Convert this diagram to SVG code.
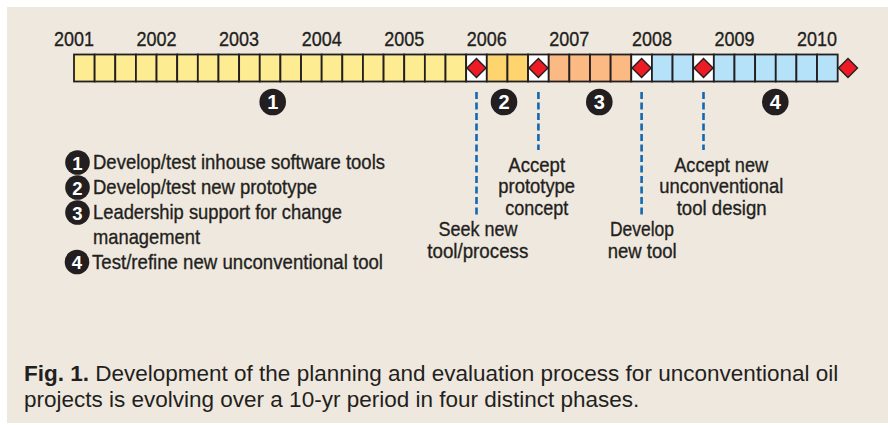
<svg xmlns="http://www.w3.org/2000/svg" width="888" height="425" viewBox="0 0 888 425">
<style>
.bg{fill:#efe8de}
.c{stroke:#231f20;stroke-width:1.8}
.y{fill:#fdec91}
.g{fill:#fdd46e}
.s{fill:#fbba84}
.b{fill:#b5e2f8}
.w{fill:#ffffff}
.dm{fill:#ed1c24;stroke:#231f20;stroke-width:1.4}
.t{font-family:"Liberation Sans",Arial,sans-serif;fill:#231f20;font-size:21px;stroke:#231f20;stroke-width:0.35}
.m{text-anchor:middle}
.num{font-family:"Liberation Sans",Arial,sans-serif;fill:#ffffff;font-weight:bold;text-anchor:middle}
.dash{stroke:#1268b3;stroke-width:2.6;stroke-dasharray:7 3.5;fill:none}
.cap{font-family:"Liberation Sans",Arial,sans-serif;fill:#231f20;font-size:22.5px}
</style>
<rect class="bg" x="7" y="7" width="881" height="416"/>

<g id="years" class="t m">
<text x="74" y="46" textLength="40" lengthAdjust="spacingAndGlyphs">2001</text>
<text x="156.56" y="46" textLength="40" lengthAdjust="spacingAndGlyphs">2002</text>
<text x="239.12" y="46" textLength="40" lengthAdjust="spacingAndGlyphs">2003</text>
<text x="321.68" y="46" textLength="40" lengthAdjust="spacingAndGlyphs">2004</text>
<text x="404.24" y="46" textLength="40" lengthAdjust="spacingAndGlyphs">2005</text>
<text x="486.8" y="46" textLength="40" lengthAdjust="spacingAndGlyphs">2006</text>
<text x="569.36" y="46" textLength="40" lengthAdjust="spacingAndGlyphs">2007</text>
<text x="651.92" y="46" textLength="40" lengthAdjust="spacingAndGlyphs">2008</text>
<text x="734.48" y="46" textLength="40" lengthAdjust="spacingAndGlyphs">2009</text>
<text x="817.04" y="46" textLength="40" lengthAdjust="spacingAndGlyphs">2010</text>
</g>

<g id="timeline-bar" class="c">
<rect class="y" x="74" y="54.5" width="20.64" height="27"/>
<rect class="y" x="94.64" y="54.5" width="20.64" height="27"/>
<rect class="y" x="115.28" y="54.5" width="20.64" height="27"/>
<rect class="y" x="135.92" y="54.5" width="20.64" height="27"/>
<rect class="y" x="156.56" y="54.5" width="20.64" height="27"/>
<rect class="y" x="177.2" y="54.5" width="20.64" height="27"/>
<rect class="y" x="197.84" y="54.5" width="20.64" height="27"/>
<rect class="y" x="218.48" y="54.5" width="20.64" height="27"/>
<rect class="y" x="239.12" y="54.5" width="20.64" height="27"/>
<rect class="y" x="259.76" y="54.5" width="20.64" height="27"/>
<rect class="y" x="280.4" y="54.5" width="20.64" height="27"/>
<rect class="y" x="301.04" y="54.5" width="20.64" height="27"/>
<rect class="y" x="321.68" y="54.5" width="20.64" height="27"/>
<rect class="y" x="342.32" y="54.5" width="20.64" height="27"/>
<rect class="y" x="362.96" y="54.5" width="20.64" height="27"/>
<rect class="y" x="383.6" y="54.5" width="20.64" height="27"/>
<rect class="y" x="404.24" y="54.5" width="20.64" height="27"/>
<rect class="y" x="424.88" y="54.5" width="20.64" height="27"/>
<rect class="y" x="445.52" y="54.5" width="20.64" height="27"/>
<rect class="w" x="466.16" y="54.5" width="20.64" height="27"/>
<rect class="g" x="486.8" y="54.5" width="20.64" height="27"/>
<rect class="g" x="507.44" y="54.5" width="20.64" height="27"/>
<rect class="w" x="528.08" y="54.5" width="20.64" height="27"/>
<rect class="s" x="548.72" y="54.5" width="20.64" height="27"/>
<rect class="s" x="569.36" y="54.5" width="20.64" height="27"/>
<rect class="s" x="590" y="54.5" width="20.64" height="27"/>
<rect class="s" x="610.64" y="54.5" width="20.64" height="27"/>
<rect class="w" x="631.28" y="54.5" width="20.64" height="27"/>
<rect class="b" x="651.92" y="54.5" width="20.64" height="27"/>
<rect class="b" x="672.56" y="54.5" width="20.64" height="27"/>
<rect class="w" x="693.2" y="54.5" width="20.64" height="27"/>
<rect class="b" x="713.84" y="54.5" width="20.64" height="27"/>
<rect class="b" x="734.48" y="54.5" width="20.64" height="27"/>
<rect class="b" x="755.12" y="54.5" width="20.64" height="27"/>
<rect class="b" x="775.76" y="54.5" width="20.64" height="27"/>
<rect class="b" x="796.4" y="54.5" width="20.64" height="27"/>
<rect class="b" x="817.04" y="54.5" width="20.64" height="27"/>
</g>

<g id="milestones">
<path class="dm" d="M476.48 58.5 L486 68 L476.48 77.5 L466.96 68 Z"/>
<path class="dm" d="M538.4 58.5 L547.92 68 L538.4 77.5 L528.88 68 Z"/>
<path class="dm" d="M641.6 58.5 L651.12 68 L641.6 77.5 L632.08 68 Z"/>
<path class="dm" d="M703.52 58.5 L713.04 68 L703.52 77.5 L694 68 Z"/>
<path class="dm" d="M848 58.5 L857.5 68 L848 77.5 L838.5 68 Z"/>
</g>

<g id="connectors">
<line class="dash" x1="476.5" y1="92" x2="476.5" y2="216"/>
<line class="dash" x1="538.4" y1="92" x2="538.4" y2="150"/>
<line class="dash" x1="641.6" y1="92" x2="641.6" y2="216"/>
<line class="dash" x1="703.5" y1="92" x2="703.5" y2="150"/>
</g>

<g id="phase-1"><circle cx="272.7" cy="102" r="13.3" fill="#231f20"/><text class="num" x="272.7" y="109" font-size="20">1</text></g>
<g id="phase-2"><circle cx="504" cy="102" r="13.3" fill="#231f20"/><text class="num" x="504" y="109" font-size="20">2</text></g>
<g id="phase-3"><circle cx="599.3" cy="102" r="13.3" fill="#231f20"/><text class="num" x="599.3" y="109" font-size="20">3</text></g>
<g id="phase-4"><circle cx="775.3" cy="102" r="13.3" fill="#231f20"/><text class="num" x="775.3" y="109" font-size="20">4</text></g>

<g id="label-seek" class="t m">
<text x="478" y="236" textLength="79" lengthAdjust="spacingAndGlyphs">Seek new</text>
<text x="477.8" y="258" textLength="101" lengthAdjust="spacingAndGlyphs">tool/process</text>
</g>
<g id="label-accept-prototype" class="t m">
<text x="536.7" y="171.5" textLength="56.7" lengthAdjust="spacingAndGlyphs">Accept</text>
<text x="536.7" y="193" textLength="76.7" lengthAdjust="spacingAndGlyphs">prototype</text>
<text x="536.7" y="214.5" textLength="63" lengthAdjust="spacingAndGlyphs">concept</text>
</g>
<g id="label-develop" class="t m">
<text x="642" y="236" textLength="64" lengthAdjust="spacingAndGlyphs">Develop</text>
<text x="642.2" y="258" textLength="69" lengthAdjust="spacingAndGlyphs">new tool</text>
</g>
<g id="label-accept-new" class="t m">
<text x="721.2" y="171.5" textLength="94" lengthAdjust="spacingAndGlyphs">Accept new</text>
<text x="721.3" y="193" textLength="124" lengthAdjust="spacingAndGlyphs">unconventional</text>
<text x="721.7" y="214.5" textLength="90" lengthAdjust="spacingAndGlyphs">tool design</text>
</g>

<g id="legend">
<circle cx="77.5" cy="162.5" r="12.3" fill="#231f20"/><text class="num" x="77.5" y="169.5" font-size="18.5">1</text>
<text class="t" x="93" y="169" textLength="292" lengthAdjust="spacingAndGlyphs">Develop/test inhouse software tools</text>
<circle cx="77.5" cy="187.5" r="12.3" fill="#231f20"/><text class="num" x="77.5" y="194.5" font-size="18.5">2</text>
<text class="t" x="93" y="194" textLength="224" lengthAdjust="spacingAndGlyphs">Develop/test new prototype</text>
<circle cx="77.5" cy="212.5" r="12.3" fill="#231f20"/><text class="num" x="77.5" y="219.5" font-size="18.5">3</text>
<text class="t" x="93" y="219" textLength="249" lengthAdjust="spacingAndGlyphs">Leadership support for change</text>
<text class="t" x="93" y="243.5" textLength="107" lengthAdjust="spacingAndGlyphs">management</text>
<circle cx="77" cy="262" r="12.3" fill="#231f20"/><text class="num" x="77" y="269" font-size="18.5">4</text>
<text class="t" x="92" y="268.5" textLength="291" lengthAdjust="spacingAndGlyphs">Test/refine new unconventional tool</text>
</g>

<g id="caption" class="cap">
<text x="24" y="381"><tspan font-weight="bold">Fig. 1.</tspan> Development of the planning and evaluation process for unconventional oil</text>
<text x="24" y="407">projects is evolving over a 10-yr period in four distinct phases.</text>
</g>
</svg>
